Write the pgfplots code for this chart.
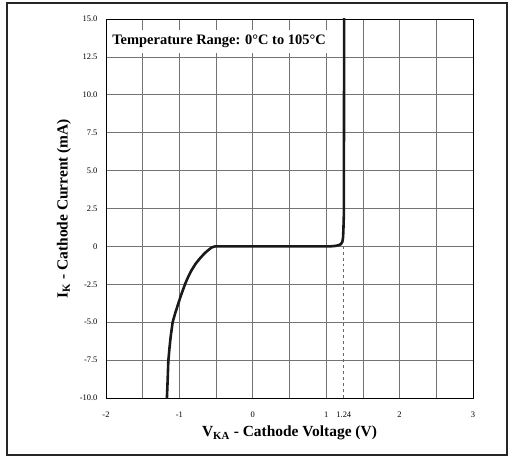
\documentclass[border=0pt]{standalone}
\usepackage{fontspec}
\setmainfont{Liberation Serif}
\usepackage{pgfplots}
\pgfplotsset{compat=1.18}

\begin{document}
\begin{tikzpicture}
  \begin{axis}[
      scale only axis,
      width=367bp, height=379bp,
      xmin=-2, xmax=3, ymin=-10, ymax=15,
      xtick={-2,-1,0,1,2,3},
      minor xtick={-1.5,-0.5,0.5,1.5,2.5},
      extra x ticks={1.24},
      extra x tick labels={1.24},
      extra x tick style={grid=none},
      ytick={-10,-7.5,-5,-2.5,0,2.5,5,7.5,10,12.5,15},
      yticklabels={-10.0,-7.5,-5.0,-2.5,0,2.5,5.0,7.5,10.0,12.5,15.0},
      xticklabels={-2,-1,0,1,2,3},
      grid=both,
      major grid style={black!55, line width=0.7pt},
      minor grid style={black!55, line width=0.7pt},
      major tick length=0pt, minor tick length=0pt,
      tick label style={font=\fontsize{8.5}{10}\selectfont},
      xticklabel style={yshift=-10bp},
      yticklabel style={xshift=-5bp},
      axis line style={black, line width=0.8pt},
      xlabel={\textbf{V\textsubscript{KA} - Cathode Voltage (V)}},
      ylabel={\textbf{I\textsubscript{K} - Cathode Current (mA)}},
      label style={font=\fontsize{15.5}{18}\selectfont},
      xlabel style={yshift=-2bp},
      ylabel style={yshift=2bp},
      clip=true,
    ]
    % dashed marker at the reference voltage
    \addplot[black!60, dashed, line width=0.8pt] coordinates {(1.24,-10) (1.24,0)};
    % label box
    \node[fill=white, inner xsep=4bp, inner ysep=5bp, anchor=west, font=\fontsize{14.5}{16}\selectfont\bfseries]
      at (axis cs:-1.97,13.5) {Temperature Range: 0°C to 105°C};
    % characteristic curve
    \addplot[black!90, line width=2.6pt, line join=round, line cap=round] coordinates {
      (-1.17,-10) (-1.16,-8.8) (-1.151,-7.56) (-1.135,-6.7) (-1.119,-5.96)
      (-1.092,-5.0) (-1.06,-4.45) (-1.029,-3.98) (-0.98,-3.25) (-0.924,-2.5)
      (-0.88,-2.0) (-0.833,-1.56) (-0.78,-1.15) (-0.72,-0.79) (-0.66,-0.47)
      (-0.606,-0.24) (-0.56,-0.07) (-0.515,0)
      (1.05,0) (1.12,0.03) (1.17,0.08) (1.2,0.15) (1.22,0.3) (1.23,0.6)
      (1.235,1.2) (1.24,2) (1.245,15.5)
    };
  \end{axis}
  \draw[black!85, line width=1.2pt]
    ([shift={(-99bp,-57bp)}]current axis.south west) rectangle
    ([shift={(34bp,16bp)}]current axis.north east);
  \useasboundingbox
    ([shift={(-106bp,-58bp)}]current axis.south west) rectangle
    ([shift={(35bp,19bp)}]current axis.north east);
\end{tikzpicture}
\end{document}
